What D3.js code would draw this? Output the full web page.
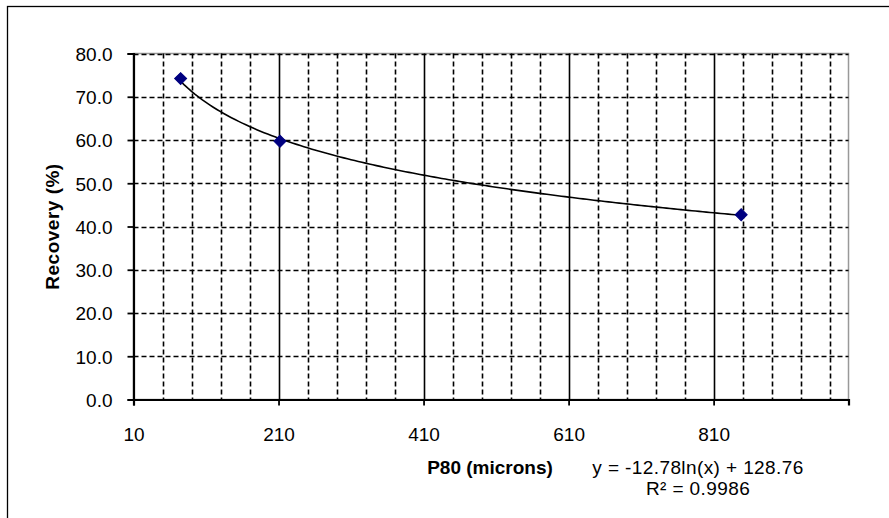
<!DOCTYPE html>
<html>
<head>
<script type="text/javascript" src="https://cdn.jsdelivr.net/npm/d3@7/dist/d3.min.js"></script>
<style>
body { margin: 0; background: white; }
text { font-family: Arial, "Liberation Sans", sans-serif; fill: #000; }
</style>
</head>
<body>
<script>

// data
var p80 = [75, 212, 848];
var recovery = [74.2, 59.7, 42.7];

var xTicks = [10, 210, 410, 610, 810];
var xMinor = [50, 90, 130, 170, 250, 290, 330, 370, 450, 490, 530, 570, 650, 690, 730, 770, 850, 890, 930, 970];
var yTicks = [0, 10, 20, 30, 40, 50, 60, 70, 80];

// trendline as printed on the chart
var trendCoef = [-12.78, 128.76];
var trendLabel = ["y = -12.78ln(x) + 128.76", "R\u00b2 = 0.9986"];

var width = 889,
    height = 518,
    fontSize = "19px";

var xScale = d3.scaleLinear()
          .domain([10, 996])
          .range([133.5, 848.5]);
var yScale = d3.scaleLinear()
          .domain([0, 80])
          .range([399.5, 53.5]);

var svg = d3.select("body")
            .append("svg")
            .attr("width", width)
            .attr("height", height);

// outer chart frame (only left/top visible)
svg.append("rect")
   .attr("x", 7.5).attr("y", 6.5)
   .attr("width", 900).attr("height", 600)
   .attr("fill", "white")
   .attr("stroke", "#000")
   .attr("stroke-width", 1.3);

// plot border
svg.append("rect")
   .attr("x", xScale.range()[0]).attr("y", yScale.range()[1])
   .attr("width", xScale.range()[1] - xScale.range()[0])
   .attr("height", yScale.range()[0] - yScale.range()[1])
   .attr("fill", "none")
   .attr("stroke", "#999")
   .attr("stroke-width", 1.5);

// minor vertical grid, dashed
svg.append("g").selectAll("line")
   .data(xMinor)
   .enter().append("line")
   .attr("x1", function (d) { return Math.round(xScale(d)) + 0.5; })
   .attr("x2", function (d) { return Math.round(xScale(d)) + 0.5; })
   .attr("y1", yScale(80))
   .attr("y2", yScale(0))
   .attr("stroke", "#000")
   .attr("stroke-width", 1.6)
   .attr("stroke-dasharray", "5,3");

// horizontal grid, dashed
svg.append("g").selectAll("line")
   .data(yTicks.slice(1))
   .enter().append("line")
   .attr("x1", xScale.range()[0])
   .attr("x2", xScale.range()[1])
   .attr("y1", function (d) { return Math.round(yScale(d)) + 0.5; })
   .attr("y2", function (d) { return Math.round(yScale(d)) + 0.5; })
   .attr("stroke", "#000")
   .attr("stroke-width", 1.6)
   .attr("stroke-dasharray", "5,3");

// major vertical grid, solid
svg.append("g").selectAll("line")
   .data(xTicks.slice(1))
   .enter().append("line")
   .attr("x1", function (d) { return Math.round(xScale(d)) + 0.5; })
   .attr("x2", function (d) { return Math.round(xScale(d)) + 0.5; })
   .attr("y1", yScale(80))
   .attr("y2", yScale(0))
   .attr("stroke", "#000")
   .attr("stroke-width", 1.6);

// axes
var xAxis = svg.append("g")
   .attr("transform", "translate(0," + yScale(0) + ")")
   .call(d3.axisBottom(xScale).tickValues(xTicks).tickSize(6).tickPadding(22)
           .tickFormat(d3.format("d")));
var yAxis = svg.append("g")
   .attr("transform", "translate(" + xScale(10) + ",0)")
   .call(d3.axisLeft(yScale).tickValues(yTicks).tickSize(6).tickPadding(15)
           .tickFormat(d3.format(".1f")));

[xAxis, yAxis].forEach(function (a) {
  a.select(".domain").attr("stroke", "#000").attr("stroke-width", 2.2);
  a.selectAll(".tick line").attr("stroke", "#000").attr("stroke-width", 1.8);
  a.selectAll(".tick text")
   .style("font-family", "Arial, 'Liberation Sans', sans-serif")
   .style("font-size", fontSize)
   .attr("fill", "#111");
});
yAxis.selectAll(".tick text").attr("dy", "0.36em");

// trendline
var trendX = d3.range(p80[0], p80[p80.length - 1] + 1, 5);
var trend = d3.line()
   .x(function (d) { return xScale(d); })
   .y(function (d) { return yScale(trendCoef[0] * Math.log(d) + trendCoef[1]); });
svg.append("path")
   .datum(trendX)
   .attr("d", trend)
   .attr("fill", "none")
   .attr("stroke", "#000")
   .attr("stroke-width", 1.6);

// markers
svg.append("g").selectAll("path")
   .data(p80)
   .enter().append("path")
   .attr("d", d3.symbol(d3.symbolSquare).size(72))
   .attr("transform", function (d, i) {
      return "translate(" + xScale(d) + "," + yScale(recovery[i]) + ") rotate(45)"; })
   .attr("fill", "#000080")
   .attr("stroke", "#000080")
   .attr("stroke-width", 1);

// axis titles
svg.append("text")
   .attr("x", 490).attr("y", 474)
   .attr("text-anchor", "middle")
   .style("font-size", fontSize)
   .style("font-weight", "bold")
   .text("P80 (microns)");

svg.append("text")
   .attr("transform", "translate(59," + ((yScale(0) + yScale(80)) / 2) + ") rotate(-90)")
   .attr("text-anchor", "middle")
   .style("font-size", fontSize)
   .style("font-weight", "bold")
   .style("letter-spacing", "0.5px")
   .text("Recovery (%)");

// equation label
svg.append("g").selectAll("text")
   .data(trendLabel)
   .enter().append("text")
   .attr("x", 698)
   .attr("y", function (d, i) { return 474 + i * 21; })
   .attr("text-anchor", "middle")
   .style("font-size", fontSize)
   .style("letter-spacing", "0.4px")
   .text(function (d) { return d; });

</script>
</body>
</html>
